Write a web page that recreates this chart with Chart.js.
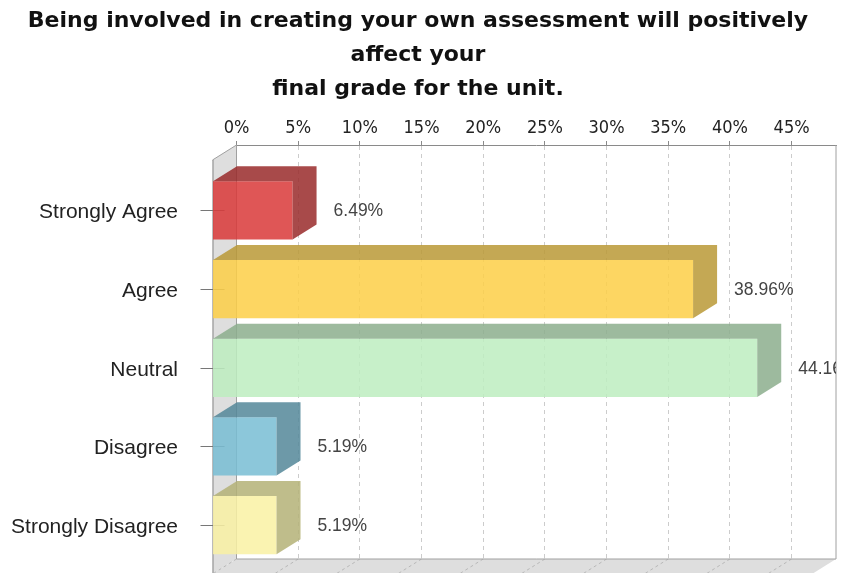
<!DOCTYPE html>
<html>
<head>
<meta charset="utf-8">
<title>Assessment survey</title>
<script src="https://cdn.jsdelivr.net/npm/chart.js@4.4.0/dist/chart.umd.min.js"></script>
<style>
    html, body { margin: 0; padding: 0; background: #fff; }
    canvas { display: block; }
</style>
</head>
<body>
<canvas id="surveyChart" width="842" height="573"></canvas>
<script>
// Survey question and answers
const titleLines = [
    'Being involved in creating your own assessment will positively',
    'affect your',
    'final grade for the unit.'
];
const categories = ['Strongly Agree', 'Agree', 'Neutral', 'Disagree', 'Strongly Disagree'];
const percentages = [6.49, 38.96, 44.16, 5.19, 5.19];
const xTicks = [0, 5, 10, 15, 20, 25, 30, 35, 40, 45];
const xMax = 48.6;

// bar colours: front face and the darker top / side faces
const frontColors = [
    'rgba(217, 56, 56, 0.85)',
    'rgba(253, 207, 70, 0.85)',
    'rgba(189, 237, 192, 0.85)',
    'rgba(120, 189, 211, 0.85)',
    'rgba(249, 241, 163, 0.85)'
];
const shadeColors = [
    'rgba(153, 42, 42, 0.85)',
    'rgba(186, 153, 54, 0.85)',
    'rgba(140, 174, 141, 0.85)',
    'rgba(83, 135, 153, 0.85)',
    'rgba(180, 177, 119, 0.85)'
];

// 3D depth of the plot (px)
const DEPTH_X = 24;
const DEPTH_Y = 15;

const bar3d = {
    id: 'bar3d',
    beforeDraw(chart) {
        const { ctx, width, height } = chart;
        ctx.save();
        ctx.fillStyle = '#ffffff';
        ctx.fillRect(0, 0, width, height);
        ctx.restore();
    },
    beforeDatasetsDraw(chart) {
        const { ctx, chartArea: a, scales } = chart;
        const xs = scales.x, ys = scales.y;
        ctx.save();

        // left wall and floor
        ctx.fillStyle = '#dedede';
        ctx.beginPath();
        ctx.moveTo(a.left - DEPTH_X, a.top + DEPTH_Y);
        ctx.lineTo(a.left, a.top);
        ctx.lineTo(a.left, a.bottom);
        ctx.lineTo(a.left - DEPTH_X, a.bottom + DEPTH_Y);
        ctx.closePath();
        ctx.fill();
        ctx.beginPath();
        ctx.moveTo(a.left - DEPTH_X, a.bottom + DEPTH_Y);
        ctx.lineTo(a.left, a.bottom);
        ctx.lineTo(a.right, a.bottom);
        ctx.lineTo(a.right - DEPTH_X, a.bottom + DEPTH_Y);
        ctx.closePath();
        ctx.fill();

        // floor grid continues diagonally
        ctx.strokeStyle = '#b8b8b8';
        ctx.lineWidth = 1;
        ctx.setLineDash([3, 3]);
        xTicks.forEach(v => {
            const px = xs.getPixelForValue(v);
            ctx.beginPath();
            ctx.moveTo(px, a.bottom);
            ctx.lineTo(px - DEPTH_X, a.bottom + DEPTH_Y);
            ctx.stroke();
        });
        ctx.setLineDash([]);

        // outlines
        ctx.strokeStyle = '#a0a0a0';
        ctx.beginPath();
        ctx.moveTo(a.left - DEPTH_X, a.top + DEPTH_Y);
        ctx.lineTo(a.left, a.top);
        ctx.moveTo(a.left, a.top);
        ctx.lineTo(a.left, a.bottom);
        ctx.lineTo(a.right, a.bottom);
        ctx.moveTo(a.right, a.top);
        ctx.lineTo(a.right, a.bottom);
        ctx.stroke();
        ctx.strokeStyle = '#888888';
        ctx.beginPath();
        ctx.moveTo(a.left - DEPTH_X + 0.5, a.top + DEPTH_Y);
        ctx.lineTo(a.left - DEPTH_X + 0.5, chart.height);
        ctx.stroke();

        // category tick marks on the front plane
        ctx.strokeStyle = '#777777';
        categories.forEach((c, i) => {
            const py = Math.round(ys.getPixelForValue(i) + DEPTH_Y) + 0.5;
            ctx.beginPath();
            ctx.moveTo(a.left - DEPTH_X - 12, py);
            ctx.lineTo(a.left - DEPTH_X + 12, py);
            ctx.stroke();
        });
        ctx.restore();

        // bars are drawn on the front plane
        ctx.save();
        ctx.translate(-DEPTH_X, DEPTH_Y);
    },
    afterDatasetsDraw(chart) {
        const { ctx, chartArea: a, scales } = chart;
        const meta = chart.getDatasetMeta(0);
        meta.data.forEach((bar, i) => {
            const { x, y, base, height } = bar.getProps(['x', 'y', 'base', 'height'], true);
            const top = y - height / 2;
            const bottom = y + height / 2;
            ctx.fillStyle = shadeColors[i];
            ctx.beginPath();
            ctx.moveTo(base, top);
            ctx.lineTo(base + DEPTH_X, top - DEPTH_Y);
            ctx.lineTo(x + DEPTH_X, top - DEPTH_Y);
            ctx.lineTo(x + DEPTH_X, bottom - DEPTH_Y);
            ctx.lineTo(x, bottom);
            ctx.lineTo(x, top);
            ctx.closePath();
            ctx.fill();
        });
        ctx.restore();

        // value labels, clipped at the plot edge
        ctx.save();
        ctx.beginPath();
        ctx.rect(0, 0, a.right, chart.height);
        ctx.clip();
        ctx.font = '17.5px "Liberation Sans", Arial, sans-serif';
        ctx.fillStyle = '#444444';
        ctx.textBaseline = 'middle';
        ctx.textAlign = 'left';
        percentages.forEach((v, i) => {
            const px = scales.x.getPixelForValue(v) + 17;
            const py = scales.y.getPixelForValue(i) + DEPTH_Y + 1;
            ctx.fillText(v.toFixed(2) + '%', px, py);
        });
        ctx.restore();
    }
};

new Chart(document.getElementById('surveyChart'), {
    type: 'bar',
    data: {
        datasets: [{
            data: percentages.map((v, i) => ({ x: v, y: i })),
            backgroundColor: frontColors,
            borderWidth: 0,
            barPercentage: 0.74,
            categoryPercentage: 1,
            clip: false
        }]
    },
    options: {
        indexAxis: 'y',
        responsive: false,
        animation: false,
        devicePixelRatio: 1,
        layout: { padding: { left: 0, right: 6, top: 0, bottom: 14 } },
        plugins: {
            legend: { display: false },
            tooltip: { enabled: false },
            title: {
                display: true,
                text: titleLines,
                color: '#111111',
                font: { family: '"DejaVu Sans", sans-serif', size: 22, weight: 'bold', lineHeight: 1.55 },
                padding: { top: 4, bottom: 0 }
            }
        },
        scales: {
            x: {
                type: 'linear',
                position: 'top',
                min: 0,
                max: xMax,
                afterFit: s => { s.height = 38.7; },
                afterBuildTicks: s => { s.ticks = xTicks.map(v => ({ value: v })); },
                ticks: {
                    autoSkip: false,
                    maxRotation: 0,
                    padding: 2,
                    color: '#222222',
                    font: { family: '"DejaVu Sans Condensed", "DejaVu Sans", sans-serif', size: 18 },
                    callback: v => v + '%'
                },
                grid: {
                    color: '#cccccc',
                    tickColor: '#8a8a8a',
                    tickLength: 4,
                    tickBorderDash: []
                },
                border: { display: true, color: '#8a8a8a', width: 1, dash: [4, 4] }
            },
            y: {
                type: 'linear',
                reverse: true,
                offset: false,
                min: -0.64,
                max: 4.62,
                afterFit: s => {
                    s.width = 236.5;
                    s.paddingTop = 0;
                    s.paddingBottom = 0;
                },
                afterBuildTicks: s => { s.ticks = categories.map((c, i) => ({ value: i })); },
                ticks: {
                    autoSkip: false,
                    padding: 58.5,
                    labelOffset: DEPTH_Y + 2,
                    color: '#222222',
                    font: { family: '"Liberation Sans", Arial, sans-serif', size: 21 },
                    callback: v => categories[v]
                },
                grid: { display: false, drawTicks: false, offset: false },
                border: { display: false }
            }
        }
    },
    plugins: [bar3d]
});
</script>
</body>
</html>
